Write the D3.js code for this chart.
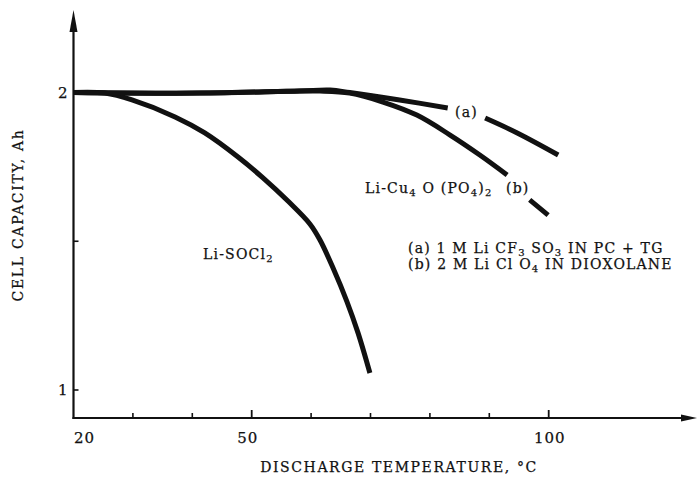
<!DOCTYPE html>
<html>
<head>
<meta charset="utf-8">
<script src="https://cdn.jsdelivr.net/npm/d3@7"></script>
<style>
  html, body { margin: 0; padding: 0; background: #fff; }
  svg { display: block; }
  text { font-family: "DejaVu Serif", "Liberation Serif", serif; fill: #111; stroke: #111; stroke-width: 0.25; }
</style>
</head>
<body>
<svg id="chart" width="698" height="480"></svg>
<script>
// ---- data ----
const socl2Temp = [20, 25.3, 29.85, 37.1, 42.1, 47.7, 51.9, 56.1, 59.8, 61.5, 63.7, 66.0, 67.9, 69.9];
const socl2Cap  = [2.0, 1.998, 1.975, 1.918, 1.864, 1.783, 1.713, 1.635, 1.558, 1.504, 1.41, 1.299, 1.192, 1.057];

// null marks the gap where the label sits
const seriesATemp = [20, 41.3, 58.1, 63.2, 66.5, 74.9, 83.0, null, 89.3, 94.7, 101.6];
const seriesACap  = [2.0, 1.998, 2.005, 2.008, 2.0, 1.975, 1.948, null, 1.914, 1.864, 1.79];

const seriesBTemp = [20, 41.3, 58.1, 61.5, 66.5, 72.1, 77.8, 83.4, 88.4, 93.0, null, 96.8, 99.9];
const seriesBCap  = [2.0, 1.998, 2.005, 2.005, 1.998, 1.968, 1.924, 1.857, 1.79, 1.723, null, 1.639, 1.588];

const xTickMinor = [30, 40, 60, 70, 80, 90];
const xTickMajor = [50, 100];
const xTickLabels = [20, 50, 100];
const yTicks = [1, 1.5, 2];
const yTickLabels = [1, 2];

// ---- layout ----
const svg = d3.select("#chart");
const x = d3.scaleLinear().domain([20, 100]).range([73.5, 548.7]);
const y = d3.scaleLinear().domain([1, 2]).range([390, 92.5]);
const x0 = 73.5, yAxisY = 418, xEnd = 697, yTop = 10;

const zip = (a, b) => a.map((v, i) => (v === null ? null : [v, b[i]]));
const line = d3.line()
  .defined(d => d !== null)
  .x(d => x(d[0])).y(d => y(d[1]))
  .curve(d3.curveCatmullRom.alpha(0.5));

// curves
[zip(socl2Temp, socl2Cap), zip(seriesATemp, seriesACap), zip(seriesBTemp, seriesBCap)].forEach(data => {
  svg.append("path").datum(data)
    .attr("d", line)
    .attr("fill", "none")
    .attr("stroke", "#111")
    .attr("stroke-width", 5)
    .attr("stroke-linecap", "butt")
    .attr("stroke-linejoin", "round");
});

// axes lines
svg.append("line").attr("x1", x0).attr("x2", x0).attr("y1", yAxisY + 1).attr("y2", yTop + 18)
  .attr("stroke", "#111").attr("stroke-width", 2.2);
svg.append("line").attr("x1", x0 - 1).attr("x2", xEnd - 12).attr("y1", yAxisY).attr("y2", yAxisY)
  .attr("stroke", "#111").attr("stroke-width", 2.2);
// arrow heads
svg.append("path").attr("d", `M${x0},${yTop} L${x0 - 4},${yTop + 22} L${x0 + 4},${yTop + 22} Z`).attr("fill", "#111");
svg.append("path").attr("d", `M${xEnd},${yAxisY} L${xEnd - 16},${yAxisY - 3.5} L${xEnd - 16},${yAxisY + 3.5} Z`).attr("fill", "#111");

// x ticks (pointing up, inside)
const gx = svg.append("g").attr("transform", `translate(0,${yAxisY})`);
gx.selectAll("line.minor").data(xTickMinor).join("line")
  .attr("x1", d => x(d)).attr("x2", d => x(d)).attr("y1", 0).attr("y2", -5)
  .attr("stroke", "#111").attr("stroke-width", 1.6);
gx.selectAll("line.major").data(xTickMajor).join("line")
  .attr("x1", d => x(d)).attr("x2", d => x(d)).attr("y1", 0).attr("y2", -8)
  .attr("stroke", "#111").attr("stroke-width", 1.8);
gx.selectAll("text").data(xTickLabels).join("text")
  .attr("x", d => x(d) + (d === 20 ? 11 : (d === 50 ? -4 : 1)))
  .attr("y", 25)
  .attr("text-anchor", "middle")
  .attr("font-size", 15)
  .attr("letter-spacing", 1)
  .text(d => d);

// y ticks (pointing right, inside)
const gy = svg.append("g").attr("transform", `translate(${x0},0)`);
gy.selectAll("line").data(yTicks).join("line")
  .attr("x1", 0).attr("x2", 5).attr("y1", d => y(d)).attr("y2", d => y(d))
  .attr("stroke", "#111").attr("stroke-width", 1.6);
gy.selectAll("text").data(yTickLabels).join("text")
  .attr("x", -6).attr("y", d => y(d) + 5)
  .attr("text-anchor", "end")
  .attr("font-size", 15)
  .text(d => d);

// axis titles
svg.append("text")
  .attr("transform", "translate(23,215) rotate(-90)")
  .attr("text-anchor", "middle")
  .attr("font-size", 14)
  .attr("letter-spacing", 1.7)
  .text("CELL CAPACITY, Ah");
svg.append("text")
  .attr("x", 399).attr("y", 472)
  .attr("text-anchor", "middle")
  .attr("font-size", 14)
  .attr("letter-spacing", 1.6)
  .text("DISCHARGE TEMPERATURE, \u00B0C");

// annotations
function sub(t, parts) {
  parts.forEach(p => {
    const ts = t.append("tspan").text(p[0]);
    if (p[1]) ts.attr("font-size", 10).attr("dy", 2.5);
    else if (p[2]) ts.attr("dy", -2.5);
  });
}
const fs = 14, ls0 = 1.2;
svg.append("text").attr("x", 455).attr("y", 117).attr("font-size", fs).attr("letter-spacing", ls0).text("(a)");

const lc = svg.append("text").attr("x", 365).attr("y", 193).attr("font-size", fs).attr("letter-spacing", ls0);
sub(lc, [["Li-Cu"], ["4", true], [" O (PO", false, true], ["4", true], [")", false, true], ["2", true]]);
svg.append("text").attr("x", 506).attr("y", 193).attr("font-size", fs).attr("letter-spacing", ls0).text("(b)");

const ls = svg.append("text").attr("x", 203).attr("y", 259).attr("font-size", fs).attr("letter-spacing", ls0);
sub(ls, [["Li-SOCl"], ["2", true]]);

const l1 = svg.append("text").attr("x", 408).attr("y", 253).attr("font-size", fs).attr("letter-spacing", ls0);
sub(l1, [["(a) 1 M Li CF"], ["3", true], [" SO", false, true], ["3", true], [" IN PC + TG", false, true]]);
const l2 = svg.append("text").attr("x", 408).attr("y", 269).attr("font-size", fs).attr("letter-spacing", ls0);
sub(l2, [["(b) 2 M Li Cl O"], ["4", true], [" IN DIOXOLANE", false, true]]);
</script>
</body>
</html>
